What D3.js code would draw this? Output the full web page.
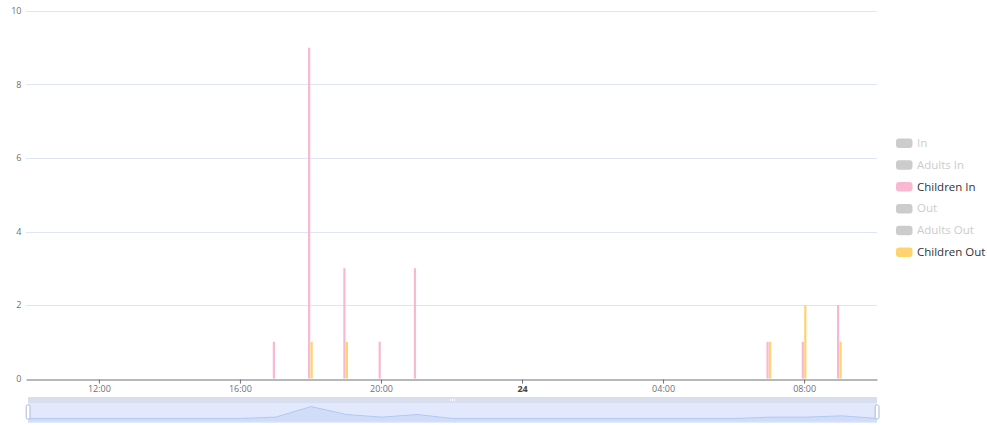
<!DOCTYPE html>
<html>
<head>
<meta charset="utf-8">
<script src="https://cdn.jsdelivr.net/npm/d3@7"></script>
<style>
  body { margin: 0; background: #fff; }
  svg { display: block; font-family: "Open Sans", "Noto Sans", sans-serif; }
</style>
</head>
<body>
<div id="chart"></div>
<script>
// hourly buckets, 10:00 on the 23rd to 10:00 on the 24th
const hours = [
    "2024-03-23T10:00", "2024-03-23T11:00", "2024-03-23T12:00", "2024-03-23T13:00",
    "2024-03-23T14:00", "2024-03-23T15:00", "2024-03-23T16:00", "2024-03-23T17:00",
    "2024-03-23T18:00", "2024-03-23T19:00", "2024-03-23T20:00", "2024-03-23T21:00",
    "2024-03-23T22:00", "2024-03-23T23:00", "2024-03-24T00:00", "2024-03-24T01:00",
    "2024-03-24T02:00", "2024-03-24T03:00", "2024-03-24T04:00", "2024-03-24T05:00",
    "2024-03-24T06:00", "2024-03-24T07:00", "2024-03-24T08:00", "2024-03-24T09:00",
    "2024-03-24T10:00"
];
const childrenIn  = [0, 0, 0, 0, 0, 0, 0, 1, 9, 3, 1, 3, 0, 0, 0, 0, 0, 0, 0, 0, 0, 1, 1, 2, 0];
const childrenOut = [0, 0, 0, 0, 0, 0, 0, 0, 1, 1, 0, 0, 0, 0, 0, 0, 0, 0, 0, 0, 0, 1, 2, 1, 0];

const legendNames = ["In", "Adults In", "Children In", "Out", "Adults Out", "Children Out"];
const legendShown = [false, false, true, false, false, true];
const legendColors = ["#ccc", "#ccc", "#f9b8d1", "#ccc", "#ccc", "#ffd36e"];

const tickTimes = ["2024-03-23T12:00", "2024-03-23T16:00", "2024-03-23T20:00",
                   "2024-03-24T00:00", "2024-03-24T04:00", "2024-03-24T08:00"];
const tickLabels = ["12:00", "16:00", "20:00", "24", "04:00", "08:00"];
const yTicks = [0, 2, 4, 6, 8, 10];

const parse = d3.timeParse("%Y-%m-%dT%H:%M");
const times = hours.map(parse);

const width = 987, height = 425;
const margin = {left: 26, right: 877, top: 11, bottom: 378.5};

const svg = d3.select("#chart").append("svg")
    .attr("width", width)
    .attr("height", height);

// time axis has a few minutes of padding on each side for the bars
const x = d3.scaleTime()
    .domain([parse("2024-03-23T09:56"), parse("2024-03-24T10:04")])
    .range([margin.left, margin.right]);
const y = d3.scaleLinear()
    .domain([0, 10])
    .range([margin.bottom, margin.top]);

// grid lines + y labels
svg.append("g")
    .selectAll("line")
    .data(yTicks.filter(d => d > 0))
    .enter().append("line")
    .attr("x1", margin.left).attr("x2", margin.right)
    .attr("y1", d => Math.round(y(d)) + 0.5)
    .attr("y2", d => Math.round(y(d)) + 0.5)
    .attr("stroke", "#e0e6f1");

svg.append("g")
    .selectAll("text")
    .data(yTicks)
    .enter().append("text")
    .attr("x", 21.5)
    .attr("y", d => y(d))
    .attr("dy", "0.35em")
    .attr("text-anchor", "end")
    .attr("font-size", 9)
    .attr("fill", "#6e7079")
    .text(d => d);

// bars
const pinkData = times.map((t, i) => [t, childrenIn[i]]).filter(d => d[1] > 0);
const yellowData = times.map((t, i) => [t, childrenOut[i]]).filter(d => d[1] > 0);

svg.append("g").selectAll("rect")
    .data(pinkData)
    .enter().append("rect")
    .attr("x", d => x(d[0]) - 2.4)
    .attr("width", 2.2)
    .attr("y", d => y(d[1]))
    .attr("height", d => y(0) - y(d[1]))
    .attr("fill", legendColors[2]);

svg.append("g").selectAll("rect")
    .data(yellowData)
    .enter().append("rect")
    .attr("x", d => x(d[0]) + 0.1)
    .attr("width", 2.2)
    .attr("y", d => y(d[1]))
    .attr("height", d => y(0) - y(d[1]))
    .attr("fill", legendColors[5]);

// x axis
const xAxis = svg.append("g")
    .attr("transform", `translate(0,${Math.round(margin.bottom) + 0.5})`)
    .call(d3.axisBottom(x)
        .tickValues(tickTimes.map(parse))
        .tickFormat((d, i) => tickLabels[i])
        .tickSize(4)
        .tickSizeOuter(0)
        .tickPadding(2));
xAxis.select(".domain").attr("stroke", "#6e7079");
xAxis.selectAll(".tick line").attr("stroke", "#6e7079");
xAxis.attr("font-family", null);
xAxis.selectAll(".tick text")
    .attr("font-size", 9)
    .attr("font-weight", (d, i) => tickLabels[i] === "24" ? "bold" : null)
    .attr("fill", (d, i) => tickLabels[i] === "24" ? "#464646" : "#6e7079");

// legend
const legend = svg.append("g")
    .selectAll("g")
    .data(legendNames)
    .enter().append("g")
    .attr("transform", (d, i) => `translate(896,${143 + i * 21.8})`);
legend.append("rect")
    .attr("x", 0).attr("y", -4.5)
    .attr("width", 16.5).attr("height", 9.5)
    .attr("rx", 3)
    .attr("fill", (d, i) => legendShown[i] ? legendColors[i] : "#ccc");
legend.append("text")
    .attr("x", 21).attr("dy", "0.35em")
    .attr("font-size", 11.5)
    .attr("fill", (d, i) => legendShown[i] ? "#333" : "#ccc")
    .text(d => d);

// data zoom slider
const sx0 = 28, sx1 = 877, sTop = 397, sMid = 403, sBot = 422.5;
const slider = svg.append("g");
slider.append("rect")
    .attr("x", sx0).attr("y", sMid)
    .attr("width", sx1 - sx0).attr("height", sBot - sMid)
    .attr("fill", "#e3e9fc");
slider.append("rect")
    .attr("x", sx0).attr("y", sTop)
    .attr("width", sx1 - sx0).attr("height", sMid - sTop)
    .attr("fill", "#d8deee");

const shadowExt = d3.extent(childrenIn);
const off = (shadowExt[1] - shadowExt[0]) * 0.3;
const sx = d3.scaleTime().domain(d3.extent(times)).range([sx0, sx1]);
const sy = d3.scaleLinear()
    .domain([shadowExt[0] - off, shadowExt[1] + off])
    .range([sBot - 0.5, sMid]);
const shadow = times.map((t, i) => [t, childrenIn[i]]);
slider.append("path")
    .datum(shadow)
    .attr("d", d3.area().x(d => sx(d[0])).y0(sBot - 1).y1(d => sy(d[1])))
    .attr("fill", "#cfddf8");
slider.append("path")
    .datum(shadow)
    .attr("d", d3.line().x(d => sx(d[0])).y(d => sy(d[1])))
    .attr("fill", "none")
    .attr("stroke", "#a8c0f2")
    .attr("stroke-width", 0.8);
slider.append("line")
    .attr("x1", sx0).attr("x2", sx1)
    .attr("y1", sBot - 0.5).attr("y2", sBot - 0.5)
    .attr("stroke", "#d3ddf6");

// move handle dots
slider.selectAll(".dot")
    .data([-2, 0, 2])
    .enter().append("rect")
    .attr("x", d => 452.5 + d - 0.6).attr("y", 399.2)
    .attr("width", 1.2).attr("height", 1.6)
    .attr("fill", "#fff");

// end handles
slider.selectAll(".handle")
    .data([sx0, sx1])
    .enter().append("rect")
    .attr("x", d => d - 1.8).attr("y", 405)
    .attr("width", 3.8).attr("height", 14)
    .attr("rx", 1.5)
    .attr("fill", "#fff")
    .attr("stroke", "#acb8d1")
    .attr("stroke-width", 1);
</script>
</body>
</html>
